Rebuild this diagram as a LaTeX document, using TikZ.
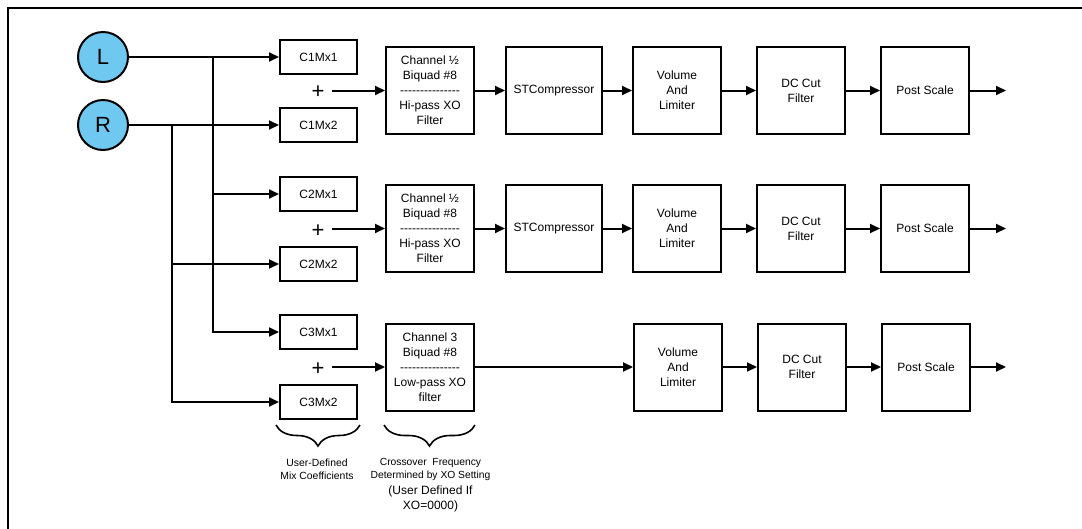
\documentclass[tikz,border=0pt]{standalone}
\usepackage{fontspec}
\setmainfont{Liberation Sans}
\usetikzlibrary{arrows.meta,decorations.pathreplacing}
\definecolor{inblue}{RGB}{110,200,240}
\newcommand\hy{-\kern0pt}
\newcommand\dashrow{\hy\hy\hy\hy\hy\hy\hy\hy\hy\hy\hy\hy\hy\hy\hy}
\begin{document}
\begin{tikzpicture}[x=1pt,y=-1pt,
  line width=2pt,
  arr/.style={-{Triangle[length=10pt,width=9pt]}},
  mixbox/.style={draw, minimum width=77pt, minimum height=34pt, inner sep=0pt, font=\fontsize{12}{15}\selectfont},
  blk/.style={draw, minimum width=88pt, minimum height=87pt, inner sep=0pt, align=center, font=\fontsize{12}{15}\selectfont},
  src/.style={circle, draw, fill=inblue, minimum size=50pt, inner sep=0pt, font=\fontsize{22}{22}\selectfont},
  plus/.style={inner sep=0pt, font=\fontsize{22}{22}\selectfont},
  brc/.style={decorate, decoration={brace, mirror, amplitude=21pt}, line width=1.6pt},
  note/.style={align=center, inner sep=0pt}
]
\useasboundingbox (0,0) rectangle (1082,528);
\fill[white] (0,0) rectangle (1082,528);
% frame
\draw[line width=2.8pt] (1095,8) -- (8,8) -- (8,540);

% sources
\node[src] (L) at (103,57) {L};
\node[src] (R) at (103,125) {R};

% mix boxes
\node[mixbox] (m11) at (318.5,57) {C1Mx1};
\node[mixbox] (m12) at (318.5,125) {C1Mx2};
\node[mixbox] (m21) at (318.5,194) {C2Mx1};
\node[mixbox] (m22) at (318.5,264) {C2Mx2};
\node[mixbox] (m31) at (318.5,332) {C3Mx1};
\node[mixbox] (m32) at (318.5,402) {C3Mx2};

% plus signs
\node[plus] (p1) at (318,92) {+};
\node[plus] (p2) at (318,231) {+};
\node[plus] (p3) at (318,369) {+};

% row 1
\node[blk] (ch1) at (430,90.5) {Channel ½\\Biquad \#8\\\dashrow\\Hi-pass XO\\Filter};
\node[blk, minimum width=96pt] (st1) at (554,90.5) {STCompressor};
\node[blk] (vo1) at (677,90.5) {Volume\\And\\Limiter};
\node[blk] (dc1) at (801,90.5) {DC Cut\\Filter};
\node[blk] (ps1) at (925,90.5) {Post Scale};

% row 2
\node[blk] (ch2) at (430,228.5) {Channel ½\\Biquad \#8\\\dashrow\\Hi-pass XO\\Filter};
\node[blk, minimum width=96pt] (st2) at (554,228.5) {STCompressor};
\node[blk] (vo2) at (677,228.5) {Volume\\And\\Limiter};
\node[blk] (dc2) at (801,228.5) {DC Cut\\Filter};
\node[blk] (ps2) at (925,228.5) {Post Scale};

% row 3
\node[blk] (ch3) at (430,367) {Channel 3\\Biquad \#8\\\dashrow\\Low-pass XO\\filter};
\node[blk] (vo3) at (678,367) {Volume\\And\\Limiter};
\node[blk] (dc3) at (802,367) {DC Cut\\Filter};
\node[blk] (ps3) at (926,367) {Post Scale};

% junction columns and output end
\coordinate (jL) at (213,0);
\coordinate (jR) at (172,0);
\coordinate (out) at (1006,0);

% source wiring
\draw[arr] (L.east) -- (m11.west);
\draw[arr] (R.east) -- (m12.west);
\draw[arr] (jL |- L.east) |- (m21.west);
\draw[arr] (jL |- L.east) |- (m31.west);
\draw[arr] (jR |- R.east) |- (m22.west);
\draw[arr] (jR |- R.east) |- (m32.west);

% sums into channel filters
\draw[arr] ([xshift=7pt]p1.east |- ch1.west) -- (ch1.west);
\draw[arr] ([xshift=7pt]p2.east |- ch2.west) -- (ch2.west);
\draw[arr] ([xshift=7pt]p3.east |- ch3.west) -- (ch3.west);

% chains
\draw[arr] (ch1) -- (st1);
\draw[arr] (st1) -- (vo1);
\draw[arr] (vo1) -- (dc1);
\draw[arr] (dc1) -- (ps1);
\draw[arr] (ps1.east) -- (ps1.east -| out);

\draw[arr] (ch2) -- (st2);
\draw[arr] (st2) -- (vo2);
\draw[arr] (vo2) -- (dc2);
\draw[arr] (dc2) -- (ps2);
\draw[arr] (ps2.east) -- (ps2.east -| out);

\draw[arr] (ch3) -- (vo3);
\draw[arr] (vo3) -- (dc3);
\draw[arr] (dc3) -- (ps3);
\draw[arr] (ps3.east) -- (ps3.east -| out);

% braces and notes
\draw[brc] (276,425) -- (360,425);
\draw[brc] (384,425) -- (475,425);
\node[note, font=\fontsize{10.4}{13}\selectfont] (n1) at (317,469.5) {User-Defined\\Mix Coefficients};
\node[note, font=\fontsize{10.3}{13}\selectfont] (n2) at (430.5,469.5) {Crossover\ \ Frequency\\Determined by XO Setting};
\node[note, font=\fontsize{12}{15}\selectfont] (n3) at (430.5,498.5) {(User Defined If\\XO=0000)};
\end{tikzpicture}
\end{document}
